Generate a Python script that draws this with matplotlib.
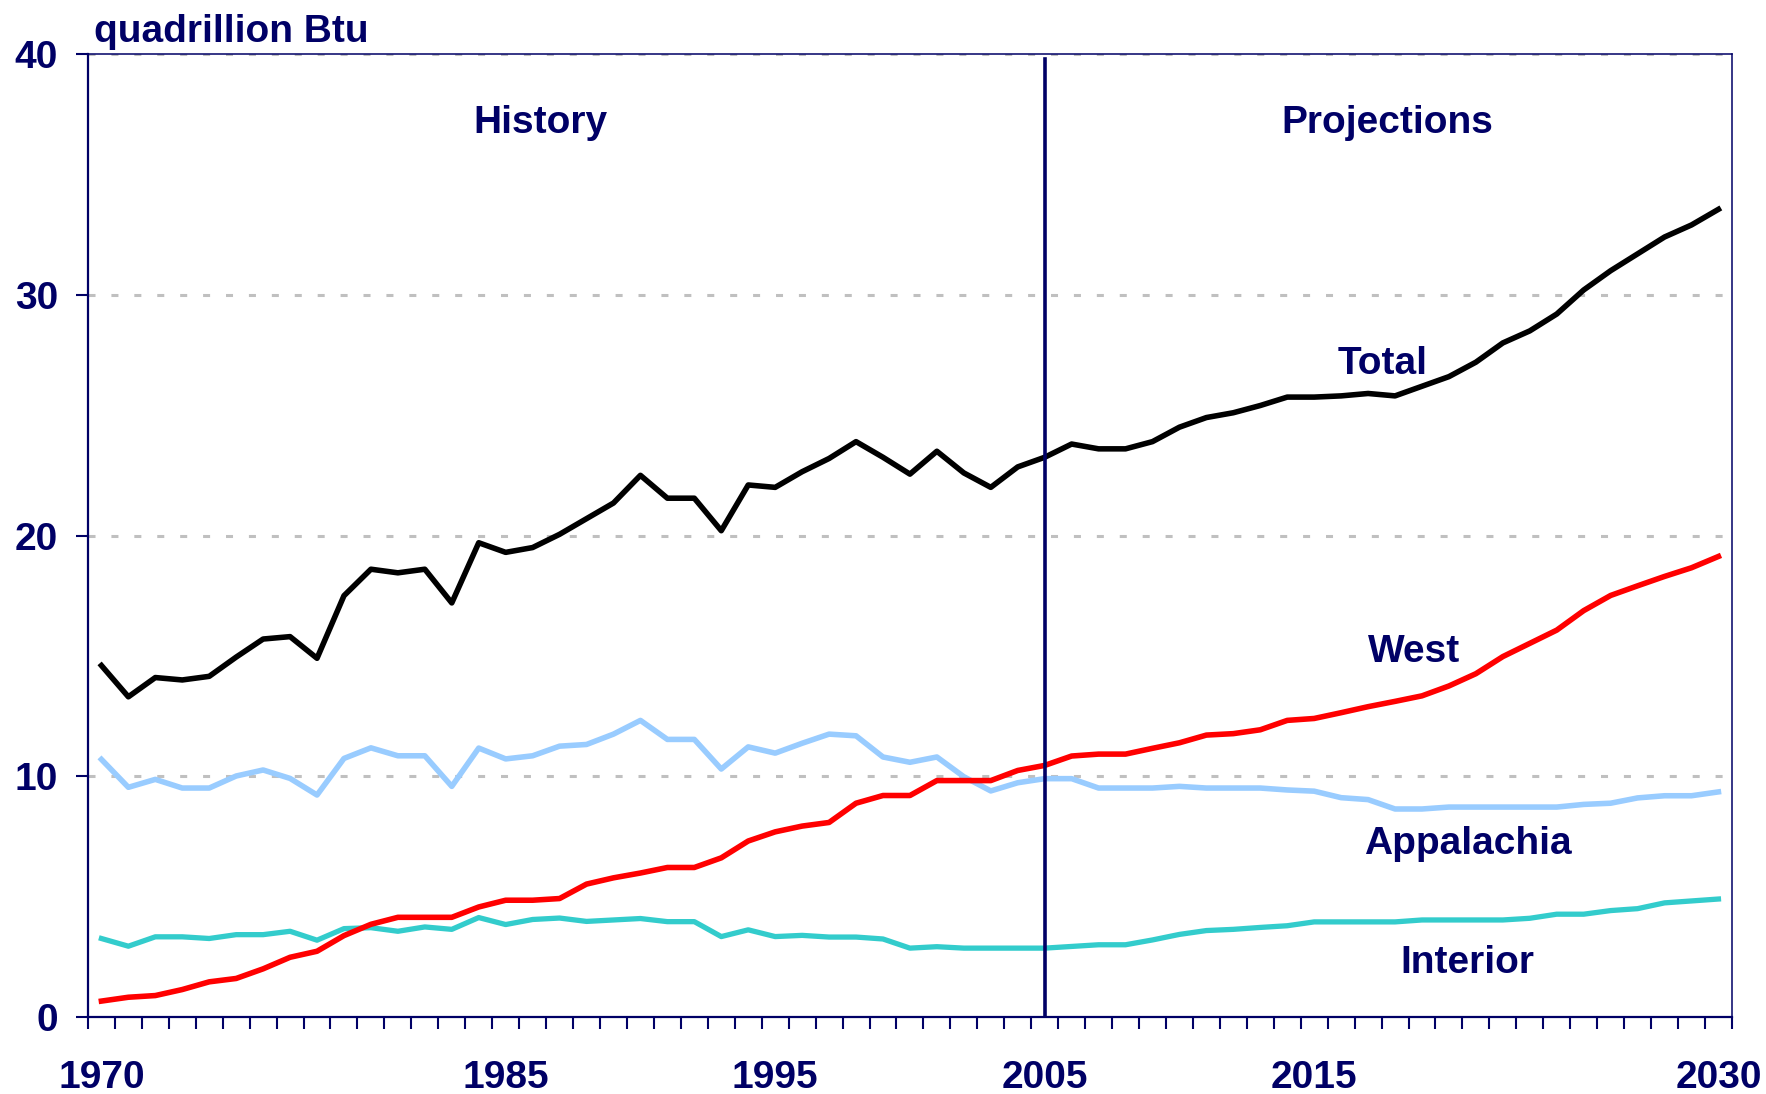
import matplotlib
matplotlib.use('Agg')
import matplotlib.pyplot as plt
import numpy as np

plt.rcParams['font.family'] = ['Liberation Sans', 'DejaVu Sans']
plt.rcParams['font.weight'] = 'bold'

navy = '#000066'

years = list(range(1970, 2031))

total = [14.6, 13.3, 14.1, 14.0, 14.15, 14.95, 15.7, 15.8, 14.9, 17.5,
         18.6, 18.45, 18.6, 17.2, 19.7, 19.3, 19.5, 20.05, 20.7, 21.35,
         22.5, 21.55, 21.55, 20.2, 22.1, 22.0, 22.65, 23.2, 23.9, 23.25,
         22.55, 23.5, 22.6, 22.0, 22.85, 23.25, 23.8, 23.6, 23.6, 23.9,
         24.5, 24.9, 25.1, 25.4, 25.75, 25.75, 25.8, 25.9, 25.8, 26.2,
         26.6, 27.2, 28.0, 28.5, 29.2, 30.2, 31.0, 31.7, 32.4, 32.9,
         33.55]

west = [0.66, 0.82, 0.89, 1.14, 1.46, 1.6, 2.0, 2.48, 2.73, 3.38,
        3.85, 4.14, 4.14, 4.14, 4.57, 4.85, 4.85, 4.92, 5.52, 5.78,
        5.98, 6.21, 6.21, 6.61, 7.31, 7.69, 7.93, 8.08, 8.88, 9.2,
        9.2, 9.82, 9.82, 9.82, 10.24, 10.45, 10.84, 10.92, 10.92, 11.16,
        11.39, 11.71, 11.77, 11.93, 12.32, 12.4, 12.64, 12.89, 13.11, 13.34,
        13.75, 14.26, 14.97, 15.52, 16.07, 16.88, 17.51, 17.91, 18.3, 18.66,
        19.13]

appalachia = [10.7, 9.54, 9.87, 9.51, 9.51, 10.01, 10.26, 9.91, 9.22, 10.74,
              11.18, 10.85, 10.85, 9.58, 11.17, 10.72, 10.85, 11.25, 11.32, 11.75,
              12.32, 11.53, 11.53, 10.3, 11.22, 10.96, 11.37, 11.75, 11.68, 10.8,
              10.58, 10.8, 9.98, 9.39, 9.73, 9.9, 9.9, 9.51, 9.51, 9.51,
              9.58, 9.51, 9.51, 9.51, 9.43, 9.38, 9.11, 9.03, 8.64, 8.64,
              8.72, 8.72, 8.72, 8.72, 8.72, 8.83, 8.88, 9.1, 9.19, 9.19,
              9.35]

interior = [3.26, 2.94, 3.33, 3.33, 3.26, 3.42, 3.42, 3.56, 3.19, 3.67,
            3.71, 3.56, 3.74, 3.64, 4.13, 3.84, 4.05, 4.11, 3.97, 4.03,
            4.09, 3.96, 3.96, 3.34, 3.62, 3.34, 3.39, 3.32, 3.32, 3.24,
            2.86, 2.92, 2.86, 2.86, 2.86, 2.86, 2.93, 3.0, 3.0, 3.2,
            3.43, 3.59, 3.64, 3.72, 3.79, 3.95, 3.95, 3.95, 3.95, 4.03,
            4.03, 4.03, 4.03, 4.1, 4.27, 4.27, 4.42, 4.5, 4.74, 4.82,
            4.9]

label_years = [1970, 1985, 1995, 2005, 2015, 2030]

fig = plt.figure(figsize=(17.66, 10.94), dpi=100)
ax = fig.add_axes([0.0498, 0.0704, 0.9309, 0.8802])

for v in [10, 20, 30, 40]:
    ax.axhline(v, color='#C0C0C0', lw=2.2, linestyle=(0, (2.3, 5.2)), zorder=1)

ax.plot(years, interior, color='#33CCCC', lw=3.8, zorder=3)
ax.plot(years, appalachia, color='#99CCFF', lw=4.0, zorder=3)
ax.plot(years, west, color='#FF0000', lw=4.0, zorder=4)
ax.plot(years, total, color='#000000', lw=4.0, zorder=5)

ax.axvline(2005, ymin=0, ymax=0.995, color=navy, lw=2.6, zorder=6)

ax.set_xlim(1969.5, 2030.5)
ax.set_ylim(0, 40)

ax.set_xticks(label_years)
ax.set_xticks(np.arange(1969.5, 2031, 1), minor=True)
ax.tick_params(axis='x', which='major', length=0, pad=31, labelsize=28, labelcolor=navy)
ax.tick_params(axis='x', which='minor', length=8.6, width=1.5, color=navy)
ax.set_yticks([0, 10, 20, 30, 40])
ax.tick_params(axis='y', length=8.6, width=1.5, color=navy, pad=13, labelsize=28, labelcolor=navy)
for lab in ax.get_xticklabels() + ax.get_yticklabels():
    lab.set_fontweight('bold')

for side in ['left', 'bottom']:
    ax.spines[side].set_color(navy)
    ax.spines[side].set_linewidth(1.6)
for side in ['top', 'right']:
    ax.spines[side].set_color(navy)
    ax.spines[side].set_linewidth(1.1)

txt = dict(color=navy, fontsize=28, fontweight='bold', ha='center', va='center')
ax.text(1986.3, 37.12, 'History', **txt)
ax.text(2017.7, 37.12, 'Projections', **txt)
ax.text(2017.55, 27.12, 'Total', **txt)
ax.text(2018.7, 15.17, 'West', **txt)
ax.text(2020.7, 7.17, 'Appalachia', **txt)
ax.text(2020.7, 2.25, 'Interior', **txt)

fig.text(0.053, 0.962, 'quadrillion Btu', color=navy, fontsize=28,
         fontweight='bold', ha='left', va='baseline')

fig.savefig('out.png', dpi=100)
